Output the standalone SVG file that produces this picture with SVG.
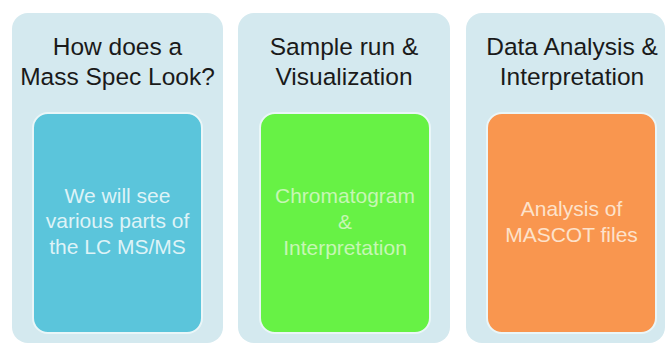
<svg xmlns="http://www.w3.org/2000/svg" width="666" height="344" viewBox="0 0 666 344">
<style>
.panel{fill:#d4e9ef}
.inner{stroke:#eaf6f8;stroke-width:2}
.title{font-family:"Liberation Sans",Arial,sans-serif;font-size:24.5px;fill:#1a1a1a;text-anchor:middle}
.body{font-family:"Liberation Sans",Arial,sans-serif;font-size:21px;text-anchor:middle}
</style>
<rect x="0" y="0" width="666" height="344" fill="#ffffff"/>
<g id="node-mass-spec">
<rect class="panel" x="12" y="13" width="211" height="330" rx="16"/>
<text class="title" x="117.5" y="55">How does a</text>
<text class="title" x="117.5" y="85">Mass Spec Look?</text>
<rect class="inner" x="33" y="113" width="169" height="220" rx="15" fill="#5bc5db"/>
<text class="body" x="117.5" y="203" fill="#def3f7">We will see</text>
<text class="body" x="117.5" y="228" fill="#def3f7">various parts of</text>
<text class="body" x="117.5" y="254" fill="#def3f7">the LC MS/MS</text>
</g>
<g id="node-sample-run">
<rect class="panel" x="238" y="13" width="212" height="330" rx="16"/>
<text class="title" x="344" y="55">Sample run &amp;</text>
<text class="title" x="344" y="85">Visualization</text>
<rect class="inner" x="260" y="113" width="170" height="220" rx="15" fill="#67f245"/>
<text class="body" x="345" y="203" fill="#c6f7b4">Chromatogram</text>
<text class="body" x="345" y="229" fill="#c6f7b4">&amp;</text>
<text class="body" x="345" y="255" fill="#c6f7b4">Interpretation</text>
</g>
<g id="node-data-analysis">
<rect class="panel" x="466" y="13" width="199" height="330" rx="16"/>
<text class="title" x="572" y="55">Data Analysis &amp;</text>
<text class="title" x="572" y="85">Interpretation</text>
<rect class="inner" x="487" y="113" width="169" height="220" rx="15" fill="#f9964f"/>
<text class="body" x="571.5" y="216" fill="#fde2cb">Analysis of</text>
<text class="body" x="571.5" y="242" fill="#fde2cb">MASCOT files</text>
</g>
<g id="connectors"></g>
</svg>
